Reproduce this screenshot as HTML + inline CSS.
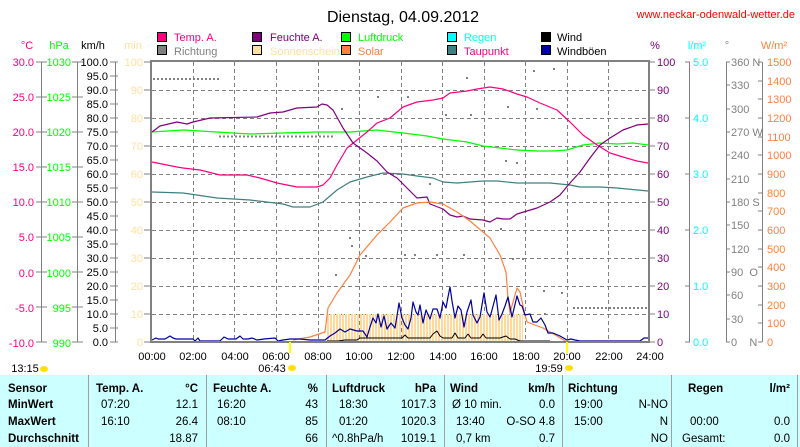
<!DOCTYPE html>
<html><head><meta charset="utf-8"><style>
html,body{margin:0;padding:0;background:#fff;}
svg{display:block;font-family:"Liberation Sans",sans-serif;}
</style></head><body>
<svg width="800" height="447" viewBox="0 0 800 447" xmlns="http://www.w3.org/2000/svg">
<defs>
<pattern id="sun" width="3" height="10" patternUnits="userSpaceOnUse"><rect x="0" y="0" width="2" height="10" fill="#FFD89A"/></pattern>
</defs>
<!-- title -->
<text x="403" y="22" font-size="16" text-anchor="middle" fill="#000">Dienstag, 04.09.2012</text>
<text x="795" y="18" font-size="11" text-anchor="end" fill="#FF0000">www.neckar-odenwald-wetter.de</text>
<!-- legend -->
<g font-size="11" stroke="#000" stroke-width="1">
<rect x="157.5" y="32.5" width="9" height="9" fill="#FF0080"/>
<rect x="252.5" y="32.5" width="9" height="9" fill="#800080"/>
<rect x="341.5" y="32.5" width="9" height="9" fill="#00FF00"/>
<rect x="447.5" y="32.5" width="9" height="9" fill="#00FFFF"/>
<rect x="541.5" y="32.5" width="9" height="9" fill="#000"/>
<rect x="157.5" y="45.5" width="9" height="9" fill="#808080"/>
<rect x="252.5" y="45.5" width="9" height="9" fill="#FFE0A0"/>
<rect x="341.5" y="45.5" width="9" height="9" fill="#FF8040"/>
<rect x="447.5" y="45.5" width="9" height="9" fill="#408080"/>
<rect x="541.5" y="45.5" width="9" height="9" fill="#0000A0"/>
</g>
<g font-size="11">
<text x="174" y="41" fill="#FF0080">Temp. A.</text>
<text x="270" y="41" fill="#800080">Feuchte A.</text>
<text x="358" y="41" fill="#00FF00">Luftdruck</text>
<text x="464" y="41" fill="#00FFFF">Regen</text>
<text x="557" y="41" fill="#000">Wind</text>
<text x="174" y="55" fill="#808080">Richtung</text>
<text x="270" y="55" fill="#FFE0A0">Sonnenschein</text>
<text x="358" y="55" fill="#FF8040">Solar</text>
<text x="464" y="55" fill="#FF0080">Taupunkt</text>
<text x="557" y="55" fill="#000">Windböen</text>
</g>
<!-- axis headers -->
<g font-size="11">
<text x="27" y="49" text-anchor="middle" fill="#FF0080">°C</text>
<text x="59" y="49" text-anchor="middle" fill="#00FF00">hPa</text>
<text x="93" y="49" text-anchor="middle" fill="#000">km/h</text>
<text x="133" y="49" text-anchor="middle" fill="#FFE0A0">min</text>
<text x="655" y="49" text-anchor="middle" fill="#800080">%</text>
<text x="697" y="49" text-anchor="middle" fill="#00FFFF">l/m²</text>
<text x="727" y="49" text-anchor="middle" fill="#808080">°</text>
<text x="774" y="49" text-anchor="middle" fill="#FF8040">W/m²</text>
</g>
<!-- left axes -->
<g stroke="#808080" stroke-width="1" fill="none">
<line x1="41.5" y1="62" x2="41.5" y2="342"/>
<line x1="77.5" y1="62" x2="77.5" y2="342"/>
<line x1="115.5" y1="62" x2="115.5" y2="342"/>
<line x1="689.5" y1="62" x2="689.5" y2="342"/>
<line x1="726.5" y1="62" x2="726.5" y2="342"/>
<line x1="762.5" y1="62" x2="762.5" y2="342"/>
</g>
<g font-size="11" text-anchor="end" fill="#FF0080">
<text x="34" y="66">30.0</text><text x="34" y="101">25.0</text><text x="34" y="136">20.0</text><text x="34" y="171">15.0</text><text x="34" y="206">10.0</text><text x="34" y="241">5.0</text><text x="34" y="277">0.0</text><text x="34" y="312">-5.0</text><text x="34" y="347">-10.0</text>
</g>
<g font-size="11" text-anchor="end" fill="#00FF00">
<text x="71" y="66">1030</text><text x="71" y="101">1025</text><text x="71" y="136">1020</text><text x="71" y="171">1015</text><text x="71" y="206">1010</text><text x="71" y="241">1005</text><text x="71" y="277">1000</text><text x="71" y="312">995</text><text x="71" y="347">990</text>
</g>
<g stroke="#808080">
<path d="M36 62h11M36 97h11M36 132h11M36 167h11M36 202h11M36 237h11M36 272h11M36 307h11M36 342h11"/>
<path d="M72 62h11M72 97h11M72 132h11M72 167h11M72 202h11M72 237h11M72 272h11M72 307h11M72 342h11"/>
<path d="M110 62h8M110 76h8M110 90h8M110 104h8M110 118h8M110 132h8M110 146h8M110 160h8M110 174h8M110 188h8M110 202h8M110 216h8M110 230h8M110 244h8M110 258h8M110 272h8M110 286h8M110 300h8M110 314h8M110 328h8M110 342h8"/>
<path d="M144 62h7M144 90h7M144 118h7M144 146h7M144 174h7M144 202h7M144 230h7M144 258h7M144 286h7M144 314h7M144 342h7"/>
<path d="M649 62h6M649 90h6M649 118h6M649 146h6M649 174h6M649 202h6M649 230h6M649 258h6M649 286h6M649 314h6M649 342h6"/>
<path d="M685 62h5M685 118h5M685 174h5M685 230h5M685 286h5M685 342h5"/>
<path d="M726 62h4M726 85h4M726 109h4M726 132h4M726 155h4M726 179h4M726 202h4M726 225h4M726 249h4M726 272h4M726 295h4M726 319h4M726 342h4"/>
<path d="M758 62h4M758 81h4M758 99h4M758 118h4M758 137h4M758 155h4M758 174h4M758 193h4M758 211h4M758 230h4M758 249h4M758 267h4M758 286h4M758 305h4M758 323h4M758 342h4"/>
</g>
<g font-size="11" text-anchor="end" fill="#000">
<text x="108" y="66">100.0</text><text x="108" y="80">95.0</text><text x="108" y="94">90.0</text><text x="108" y="108">85.0</text><text x="108" y="122">80.0</text><text x="108" y="136">75.0</text><text x="108" y="150">70.0</text><text x="108" y="164">65.0</text><text x="108" y="178">60.0</text><text x="108" y="192">55.0</text><text x="108" y="206">50.0</text><text x="108" y="220">45.0</text><text x="108" y="234">40.0</text><text x="108" y="248">35.0</text><text x="108" y="262">30.0</text><text x="108" y="276">25.0</text><text x="108" y="290">20.0</text><text x="108" y="304">15.0</text><text x="108" y="318">10.0</text><text x="108" y="332">5.0</text><text x="108" y="346">0.0</text>
</g>
<g font-size="11" text-anchor="end" fill="#FFE0A0">
<text x="143" y="66">100</text><text x="143" y="94">90</text><text x="143" y="122">80</text><text x="143" y="150">70</text><text x="143" y="178">60</text><text x="143" y="206">50</text><text x="143" y="234">40</text><text x="143" y="262">30</text><text x="143" y="290">20</text><text x="143" y="318">10</text><text x="143" y="346">0</text>
</g>
<g font-size="11" fill="#800080">
<text x="657" y="66">100</text><text x="657" y="94">90</text><text x="657" y="122">80</text><text x="657" y="150">70</text><text x="657" y="178">60</text><text x="657" y="206">50</text><text x="657" y="234">40</text><text x="657" y="262">30</text><text x="657" y="290">20</text><text x="657" y="318">10</text><text x="657" y="346">0</text>
</g>
<g font-size="11" fill="#00FFFF">
<text x="693" y="66">5.0</text><text x="693" y="122">4.0</text><text x="693" y="178">3.0</text><text x="693" y="234">2.0</text><text x="693" y="290">1.0</text><text x="693" y="346">0.0</text>
</g>
<g font-size="11" fill="#808080">
<text x="731" y="66">360 N</text><text x="731" y="89">330</text><text x="731" y="113">300</text><text x="731" y="136">270 W</text><text x="731" y="159">240</text><text x="731" y="183">210</text><text x="731" y="206">180 S</text><text x="731" y="229">150</text><text x="731" y="253">120</text><text x="731" y="276">90&#160; O</text><text x="731" y="299">60</text><text x="731" y="323">30</text><text x="731" y="346">0&#160;&#160;&#160; N</text>
</g>
<g font-size="11" fill="#FF8040">
<text x="767" y="66">1500</text><text x="767" y="85">1400</text><text x="767" y="103">1300</text><text x="767" y="122">1200</text><text x="767" y="141">1100</text><text x="767" y="159">1000</text><text x="767" y="178">900</text><text x="767" y="197">800</text><text x="767" y="215">700</text><text x="767" y="234">600</text><text x="767" y="253">500</text><text x="767" y="271">400</text><text x="767" y="290">300</text><text x="767" y="309">200</text><text x="767" y="327">100</text><text x="767" y="346">0</text>
</g>
<!-- grid -->
<g stroke="#808080" stroke-dasharray="4,3" stroke-width="1">
<path d="M152 90.5h496M152 118.5h496M152 146.5h496M152 174.5h496M152 202.5h496M152 230.5h496M152 258.5h496M152 286.5h496M152 314.5h496"/>
<path d="M193.5 62v280M234.5 62v280M276.5 62v280M318.5 62v280M359.5 62v280M401.5 62v280M442.5 62v280M484.5 62v280M525.5 62v280M567.5 62v280M608.5 62v280"/>
</g>
<!-- sunshine bars -->
<rect x="327" y="314" width="196" height="28" fill="url(#sun)"/>
<!-- richtung dots -->
<g stroke="#808080" stroke-width="2" stroke-dasharray="2,2">
<path d="M153 79h66M219 136.5h114M573 308h75"/>
</g>
<g fill="#808080">
<rect x="341" y="108" width="2" height="2"/><rect x="466" y="77" width="2" height="2"/><rect x="533" y="70" width="2" height="2"/><rect x="553" y="68" width="2" height="2"/><rect x="407" y="96" width="2" height="2"/><rect x="377" y="96" width="2" height="2"/><rect x="445" y="114" width="2" height="2"/><rect x="470" y="114" width="2" height="2"/><rect x="507" y="106" width="2" height="2"/><rect x="536" y="108" width="2" height="2"/><rect x="505" y="160" width="2" height="2"/><rect x="516" y="162" width="2" height="2"/><rect x="500" y="228" width="2" height="2"/><rect x="351" y="245" width="2" height="2"/><rect x="365" y="255" width="2" height="2"/><rect x="404" y="254" width="2" height="2"/><rect x="414" y="254" width="2" height="2"/><rect x="436" y="254" width="2" height="2"/><rect x="463" y="254" width="2" height="2"/><rect x="512" y="258" width="2" height="2"/><rect x="522" y="258" width="2" height="2"/><rect x="335" y="274" width="2" height="2"/><rect x="543" y="290" width="2" height="2"/><rect x="561" y="292" width="2" height="2"/><rect x="544" y="313" width="2" height="2"/><rect x="429" y="183" width="2" height="2"/><rect x="349" y="237" width="2" height="2"/></g>
<!-- series -->
<g fill="none" stroke-width="1.2" stroke-linejoin="round">
<polyline stroke="#408080" points="152,192 183,193 217,198 250,200 283,204 293,207 310,207 323,202 337,190 350,182 367,177 383,173 403,174 417,176 433,178 443,182 457,183 483,181 497,181 517,183 550,183 570,185 580,187 600,187 617,188 648,191"/>
<polyline stroke="#00FF00" points="152,132 183,130 217,132 233,133 250,134 283,133 317,132 350,132 377,130 403,133 427,136 443,139 467,142 483,146 500,148 517,150 537,151 553,151 567,150 583,145 600,143 617,144 633,143 648,145"/>
<polyline stroke="#FF0080" points="152,162 177,167 183,168 200,170 220,175 247,175 260,178 277,183 297,187 317,187 323,185 330,178 337,165 347,148 357,140 367,132 377,123 390,118 403,107 417,102 433,100 443,98 450,93 467,91 477,89 490,87 503,89 517,94 527,97 540,103 557,110 570,122 583,135 597,145 610,153 623,157 637,161 648,163"/>
<polyline stroke="#800080" points="152,132 160,126 177,122 187,124 193,122 210,118 257,117 270,113 283,112 297,108 317,107 322,104 327,105 333,110 343,128 353,143 367,153 377,161 387,172 397,178 407,188 417,198 427,197 430,204 443,209 450,215 457,217 463,216 470,219 483,220 490,222 497,218 503,219 510,219 517,214 527,211 537,208 550,202 560,195 570,183 580,172 590,158 600,145 610,138 623,130 637,125 648,124"/>
<polyline stroke="#FF8040" points="293,340 310,337 325,332 328,308 337,293 350,275 360,255 377,235 390,222 403,208 417,203 430,202 443,204 457,212 470,221 483,232 490,238 500,255 506,272 508,298 510,313 513,302 517,288 520,292 525,315 527,322 543,328 557,336 567,342"/>
<polyline stroke="#000" stroke-width="1" points="327,341 338,341 345,340 357,340 360,338 363,338 380,338 402,338 405,335 408,338 430,338 433,334 437,331 440,336 443,338 452,338 455,333 458,338 465,338 468,334 471,338 480,338 483,334 486,338 500,338 506,336 510,339 515,339 520,341 550,341"/>
<polyline stroke="#0000A0" stroke-width="1.2" points="152,340 156,338 158,339 162,339 165,339 170,336 173,338 176,339 193,339 195,341 198,338 200,341 220,341 224,337 228,339 236,339 240,336 243,339 248,339 252,338 257,340 264,339 275,338 278,341 283,340 290,339 300,339 310,340 325,340 330,336 335,333 340,329 345,332 350,329 357,331 363,331 367,337 370,327 373,318 376,323 378,314 381,327 384,316 387,329 391,323 395,328 397,316 399,303 402,318 405,325 408,329 411,318 413,302 416,312 418,315 420,305 423,323 426,310 430,319 433,309 437,309 440,318 443,302 446,308 448,297 450,287 452,301 455,318 458,306 461,310 464,327 467,312 471,300 473,315 477,323 480,317 484,293 487,312 490,317 492,310 496,295 499,320 502,314 505,306 508,297 512,317 517,296 520,305 522,306 525,315 530,314 533,322 537,322 541,318 545,325 548,333 553,333 560,336 567,340 571,339 575,340 580,341 640,341 644,338 648,338"/>
</g>
<!-- plot border -->
<rect x="151" y="61" width="498" height="281" fill="none" stroke="#808080" stroke-width="2"/>
<!-- sunrise / sunset markers -->
<rect x="289" y="342" width="2" height="11" fill="#FFFF00"/>
<rect x="566" y="342" width="2" height="11" fill="#FFFF00"/>
<!-- x labels -->
<g font-size="11" text-anchor="middle" fill="#000">
<text x="152" y="360">00:00</text><text x="193" y="360">02:00</text><text x="235" y="360">04:00</text><text x="276" y="360">06:00</text><text x="318" y="360">08:00</text><text x="359" y="360">10:00</text><text x="401" y="360">12:00</text><text x="443" y="360">14:00</text><text x="484" y="360">16:00</text><text x="526" y="360">18:00</text><text x="567" y="360">20:00</text><text x="609" y="360">22:00</text><text x="650" y="360">24:00</text>
<text x="25" y="372">13:15</text><text x="272" y="372">06:43</text><text x="549" y="372">19:59</text>
</g>
<g fill="#FFE000"><ellipse cx="44" cy="369" rx="4" ry="3"/><ellipse cx="292" cy="368" rx="4" ry="3"/><ellipse cx="569" cy="368" rx="4" ry="3"/></g>
<!-- table -->
<rect x="0" y="375" width="800" height="72" fill="#CCFFFF"/>
<g stroke="#A0A0A0" stroke-width="1">
<path d="M88.5 375v72M206.5 375v72M326.5 375v72M444.5 375v72M562.5 375v72M671.5 375v72M797.5 375v72"/>
</g>
<g font-size="11.5" fill="#000">
<g font-weight="bold">
<text x="8" y="392">Sensor</text><text x="8" y="408">MinWert</text><text x="8" y="425">MaxWert</text><text x="8" y="442">Durchschnitt</text>
<text x="96" y="392">Temp. A.</text><text x="198" y="392" text-anchor="end">°C</text>
<text x="213" y="392">Feuchte A.</text><text x="318" y="392" text-anchor="end">%</text>
<text x="332" y="392">Luftdruck</text><text x="436" y="392" text-anchor="end">hPa</text>
<text x="450" y="392">Wind</text><text x="555" y="392" text-anchor="end">km/h</text>
<text x="568" y="392">Richtung</text>
<text x="688" y="392">Regen</text><text x="790" y="392" text-anchor="end">l/m²</text>
</g>
<text x="101" y="408">07:20</text><text x="198" y="408" text-anchor="end">12.1</text>
<text x="101" y="425">16:10</text><text x="198" y="425" text-anchor="end">26.4</text>
<text x="198" y="442" text-anchor="end">18.87</text>
<text x="217" y="408">16:20</text><text x="318" y="408" text-anchor="end">43</text>
<text x="217" y="425">08:10</text><text x="318" y="425" text-anchor="end">85</text>
<text x="318" y="442" text-anchor="end">66</text>
<text x="339" y="408">18:30</text><text x="436" y="408" text-anchor="end">1017.3</text>
<text x="339" y="425">01:20</text><text x="436" y="425" text-anchor="end">1020.3</text>
<text x="332" y="442">^0.8hPa/h</text><text x="436" y="442" text-anchor="end">1019.1</text>
<text x="452" y="408">Ø 10 min.</text><text x="555" y="408" text-anchor="end">0.0</text>
<text x="456" y="425">13:40</text><text x="555" y="425" text-anchor="end">O-SO 4.8</text>
<text x="456" y="442">0,7 km</text><text x="555" y="442" text-anchor="end">0.7</text>
<text x="574" y="408">19:00</text><text x="668" y="408" text-anchor="end">N-NO</text>
<text x="574" y="425">15:00</text><text x="668" y="425" text-anchor="end">N</text>
<text x="668" y="442" text-anchor="end">NO</text>
<text x="690" y="425">00:00</text><text x="790" y="425" text-anchor="end">0.0</text>
<text x="682" y="442">Gesamt:</text><text x="790" y="442" text-anchor="end">0.0</text>
</g>
</svg>
</body></html>
